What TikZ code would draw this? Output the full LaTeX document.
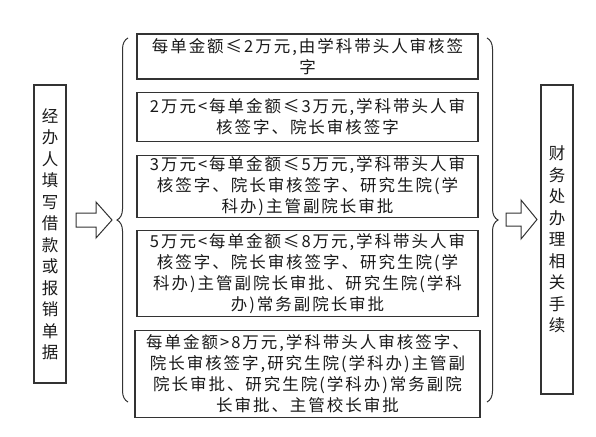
\documentclass[tikz,border=0pt]{standalone}
\usepackage{fontspec}
\setmainfont{Noto Sans CJK SC}[LetterSpace=12]
\usetikzlibrary{positioning,decorations.pathreplacing}
\definecolor{lnGray}{HTML}{333333}
\definecolor{txGray}{HTML}{1A1A1A}
\tikzset{
  rule/.style={draw=lnGray, line width=1.1pt, fill=white, align=center,
               text=txGray, minimum width=341pt, inner sep=0pt,
               font=\fontsize{16.5pt}{21pt}\selectfont},
  side/.style={draw=lnGray, line width=1.1pt, align=center, text=txGray,
               minimum width=32pt, inner sep=0pt,
               font=\fontsize{16.5pt}{21.5pt}\selectfont},
  fatarrow/.style={draw=lnGray, line width=1pt, fill=white, line join=miter},
  curly/.style={draw=lnGray, line width=1pt, decorate,
                decoration={brace, amplitude=11pt}},
}

\begin{document}
\begin{tikzpicture}[x=1pt, y=-1pt, node distance=12.5pt]
  \useasboundingbox (0,0) rectangle (596,436);

  \node[side, minimum height=298pt] (start) at (50,234)
    {经\\办\\人\\填\\写\\借\\款\\或\\报\\销\\单\\据};
  \node[side, minimum height=309pt] (finance) at (557,239.5)
    {财\\务\\处\\办\\理\\相\\关\\手\\续};

  \node[rule, minimum height=45pt] (lvlA) at (307.5,56.5)
    {每单金额≤2万元,由学科带头人审核签\\字};
  \node[rule, minimum height=49pt, below=of lvlA] (lvlB)
    {2万元<每单金额≤3万元,学科带头人审\\核签字、院长审核签字};
  \node[rule, minimum height=62pt, below=of lvlB] (lvlC)
    {3万元<每单金额≤5万元,学科带头人审\\核签字、院长审核签字、研究生院(学\\
     科办)主管副院长审批};
  \node[rule, minimum height=86pt, below=of lvlC] (lvlD)
    {5万元<每单金额≤8万元,学科带头人审\\核签字、院长审核签字、研究生院(学\\
     科办)主管副院长审批、研究生院(学科\\办)常务副院长审批};
  \node[rule, minimum height=87pt, minimum width=345pt, below=of lvlD] (lvlE)
    {每单金额>8万元,学科带头人审核签字、\\院长审核签字,研究生院(学科办)主管副\\
     院长审批、研究生院(学科办)常务副院\\长审批、主管校长审批};

  % braces round the five levels
  \coordinate (braceLbot) at (128,402);
  \coordinate (braceLtop) at (128,38);
  \coordinate (braceRtop) at (487,38);
  \coordinate (braceRbot) at (487,402);
  \draw[curly] (braceLbot) -- (braceLtop);
  \draw[curly] (braceRtop) -- (braceRbot);

  % block arrows
  \draw[fatarrow] (76,213) -- (96,213) -- (96,202) -- (112,220)
    -- (96,238) -- (96,227) -- (76,227) -- cycle;
  \draw[fatarrow] (506,213) -- (521,213) -- (521,200) -- (537,219.5)
    -- (521,239) -- (521,226) -- (506,226) -- cycle;
\end{tikzpicture}
\end{document}
